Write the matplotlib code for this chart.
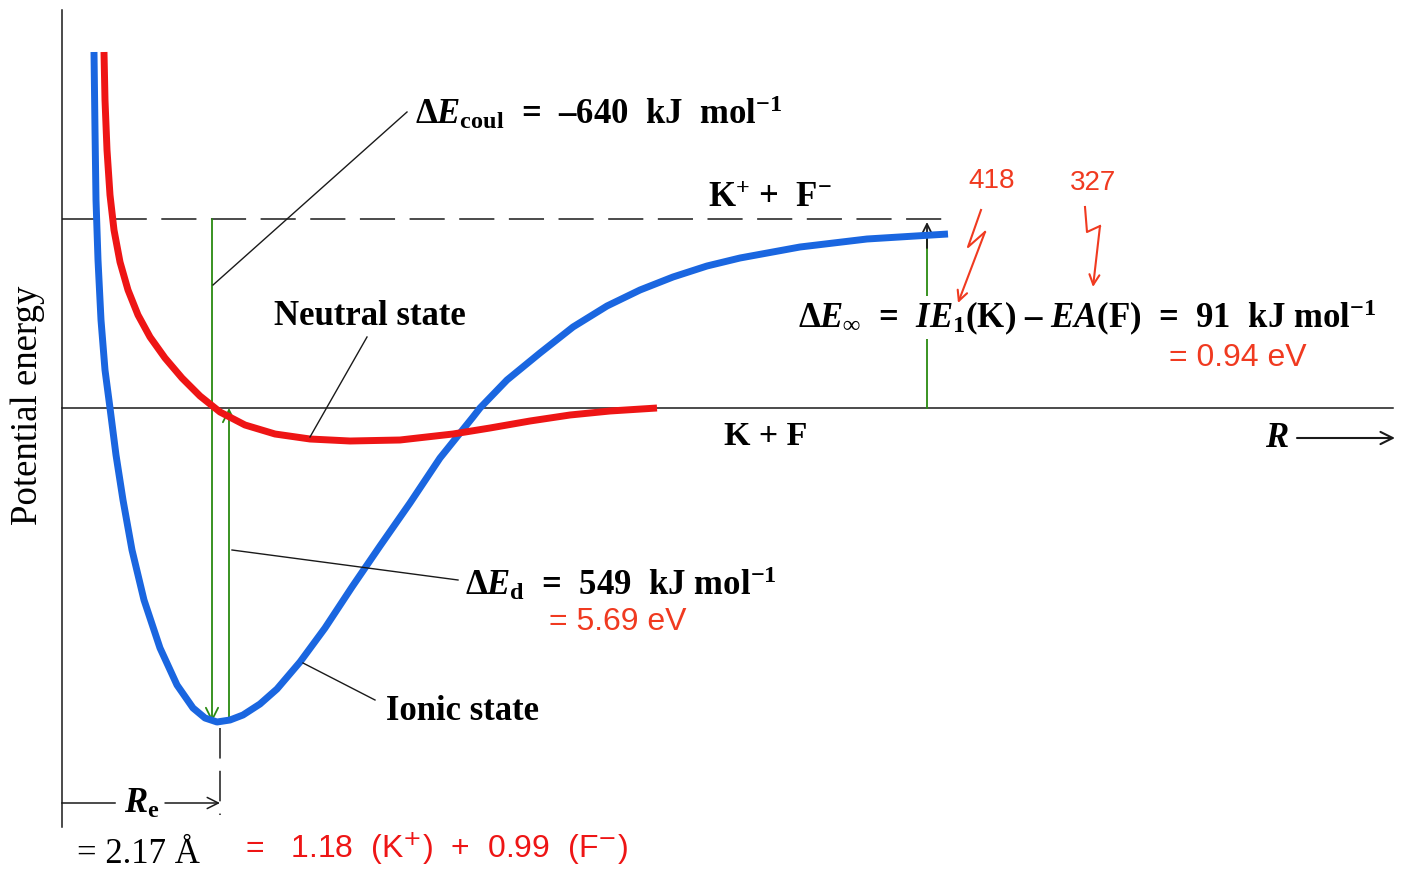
import matplotlib
matplotlib.use('Agg')
import matplotlib.pyplot as plt

# distance R (px from the energy axis) and energy E (px above the K + F level)
ionic_R = [32, 33, 34, 36, 39, 43, 48, 54, 61, 70, 82, 98, 115, 131, 143, 155, 168, 181, 198, 215,
           238, 263, 290, 318, 348, 378, 411, 418, 445, 478, 511, 545, 578, 611, 645, 678, 738, 805, 886]
ionic_E = [356, 278, 208, 148, 88, 38, 0, -47, -92, -142, -192, -240, -277, -300, -310, -314, -312, -307, -296, -281,
           -254, -220, -179, -138, -95, -50, -9, 0, 28, 55, 81, 102, 118, 131, 142, 150, 161, 169, 174]

neutral_R = [42, 43, 45, 48, 52, 58, 66, 76, 88, 103, 120, 138, 158, 183, 213, 248, 288, 338, 391, 428,
             468, 508, 548, 595]
neutral_E = [356, 308, 258, 213, 178, 146, 118, 93, 71, 50, 30, 12, -4, -17, -26, -31, -33, -32, -26, -20,
             -13, -7, -3, 0]

E_ions = 189        # K+ + F- level
E_min = -314        # bottom of the ionic well
R_e = 158
R_inf = 865         # where the Delta E_inf arrow is drawn

# hand-written red squiggle arrows
sq1_R = [919, 906, 923, 896]
sq1_E = [198, 161, 176, 105]
sq2_R = [1023, 1025, 1038, 1031]
sq2_E = [201, 176, 182, 121]

blue = '#1a66e0'
red = '#ee1515'
pen = '#f03a20'
green = '#2a8a10'
ink = '#1a1a1a'

plt.rcParams.update({
    'font.family': ['Liberation Serif', 'DejaVu Serif'],
    'mathtext.fontset': 'custom',
    'mathtext.rm': 'Liberation Serif:bold',
    'mathtext.it': 'Liberation Serif:italic:bold',
    'mathtext.bf': 'Liberation Serif:bold',
})
hand = ['Liberation Sans Narrow', 'Liberation Sans', 'DejaVu Sans']

fig = plt.figure(figsize=(14.08, 8.76), dpi=100)
ax = fig.add_axes([0, 0, 1, 1])
ax.set_xlim(-62, 1346)
ax.set_ylim(-468, 408)
ax.axis('off')

# axes and reference levels
ax.plot([0, 0], [398, -419], color=ink, lw=1.1)
ax.plot([0, 1331], [0, 0], color=ink, lw=1.1)
ax.plot([0, 885], [E_ions, E_ions], color=ink, lw=1.1, ls=(0, (23, 9.5)))

# potential curves
ax.plot(ionic_R, ionic_E, color=blue, lw=5, solid_capstyle='butt', solid_joinstyle='round', zorder=3)
ax.plot(neutral_R, neutral_E, color=red, lw=5, solid_capstyle='butt', solid_joinstyle='round', zorder=3)

# green energy arrows
arr = dict(arrowstyle='->', color=green, lw=1.3, mutation_scale=22, shrinkA=0, shrinkB=0)
ax.annotate('', xy=(R_e - 8, E_min), xytext=(R_e - 8, E_ions), arrowprops=arr, zorder=2)
ax.annotate('', xy=(R_e + 9, 0), xytext=(R_e + 9, E_min), arrowprops=arr, zorder=2)
ax.plot([R_inf, R_inf], [0, 175], color=green, lw=1.3, zorder=2)
ax.annotate('', xy=(R_inf, E_ions - 3), xytext=(R_inf, 160),
            arrowprops=dict(arrowstyle='->', color=ink, lw=1.3, mutation_scale=20, shrinkA=0, shrinkB=0), zorder=2)

# leader lines
for (r0, e0), (r1, e1) in [((151, 123), (345, 296)), ((305, 71), (248, -29)),
                           ((170, -142), (396, -172)), ((241, -255), (313, -292))]:
    ax.plot([r0, r1], [e0, e1], color=ink, lw=1.0, zorder=4)

# R_e bracket
ax.plot([0, 53], [-395, -395], color=ink, lw=1.1)
ax.annotate('', xy=(R_e, -395), xytext=(103, -395),
            arrowprops=dict(arrowstyle='->', color=ink, lw=1.1, mutation_scale=20, shrinkA=0, shrinkB=0))
ax.plot([R_e, R_e], [E_min - 6, -407], color=ink, lw=1.1, ls=(0, (20, 8)))
ax.annotate('', xy=(1333, -30), xytext=(1235, -30),
            arrowprops=dict(arrowstyle='->', color=ink, lw=1.5, mutation_scale=22, shrinkA=0, shrinkB=0))

# printed labels
ax.text(-34, 3, 'Potential energy', rotation=90, fontsize=26.5, ha='center', va='center')
ax.text(353, 284, r'$\Delta E_{\mathrm{coul}}$  =  –640  kJ  mol$^{-1}$', fontsize=25, fontweight='bold',
        va='baseline')
ax.text(708, 201, r'K$^{+}$ +  F$^{-}$', fontsize=25, fontweight='bold', ha='center', va='baseline')
ax.text(308, 83, 'Neutral state', fontsize=25, fontweight='bold', ha='center', va='baseline')
ax.text(736, 80, r'$\Delta E_{\infty}$  =  $IE_{1}$(K) – $EA$(F)  =  91  kJ mol$^{-1}$', fontsize=25,
        fontweight='bold', va='baseline', zorder=3,
        bbox=dict(facecolor='white', edgecolor='none', pad=1))
ax.text(704, -37, 'K + F', fontsize=24.5, fontweight='bold', ha='center', va='baseline')
ax.text(1203, -39, r'$R$', fontsize=25, va='baseline')
ax.text(403, -187, r'$\Delta E_{\mathrm{d}}$  =  549  kJ mol$^{-1}$', fontsize=25, fontweight='bold',
        va='baseline')
ax.text(400, -312, 'Ionic state', fontsize=25, fontweight='bold', ha='center', va='baseline')
ax.text(80, -405, r'$R_{\mathrm{e}}$', fontsize=25, ha='center', va='baseline',
        bbox=dict(facecolor='white', edgecolor='none', pad=1))
ax.text(76, -455, '= 2.17 Å', fontsize=25, ha='center', va='baseline')

# hand-written notes
ax.text(1176, 50, '= 0.94 eV', color=pen, fontsize=23, family=hand, ha='center', va='center')
ax.text(556, -214, '= 5.69 eV', color=pen, fontsize=23, family=hand, ha='center', va='center')
ax.text(183, -440, r'=   1.18  (K$^{+}$)  +  0.99  (F$^{-}$)', color=red, fontsize=23, family=hand,
        math_fontfamily='dejavusans', ha='left', va='center')
ax.text(930, 227, '418', color=pen, fontsize=20, family=hand, ha='center', va='center')
ax.text(1031, 225, '327', color=pen, fontsize=20, family=hand, ha='center', va='center')
for sr, se in [(sq1_R, sq1_E), (sq2_R, sq2_E)]:
    ax.plot(sr[:-1], se[:-1], color=pen, lw=1.5, zorder=5)
    ax.annotate('', xy=(sr[-1], se[-1]), xytext=(sr[-2], se[-2]),
                arrowprops=dict(arrowstyle='->', color=pen, lw=1.5, mutation_scale=18, shrinkA=0, shrinkB=0),
                zorder=5)

fig.savefig('out.png', dpi=100, facecolor='white')
